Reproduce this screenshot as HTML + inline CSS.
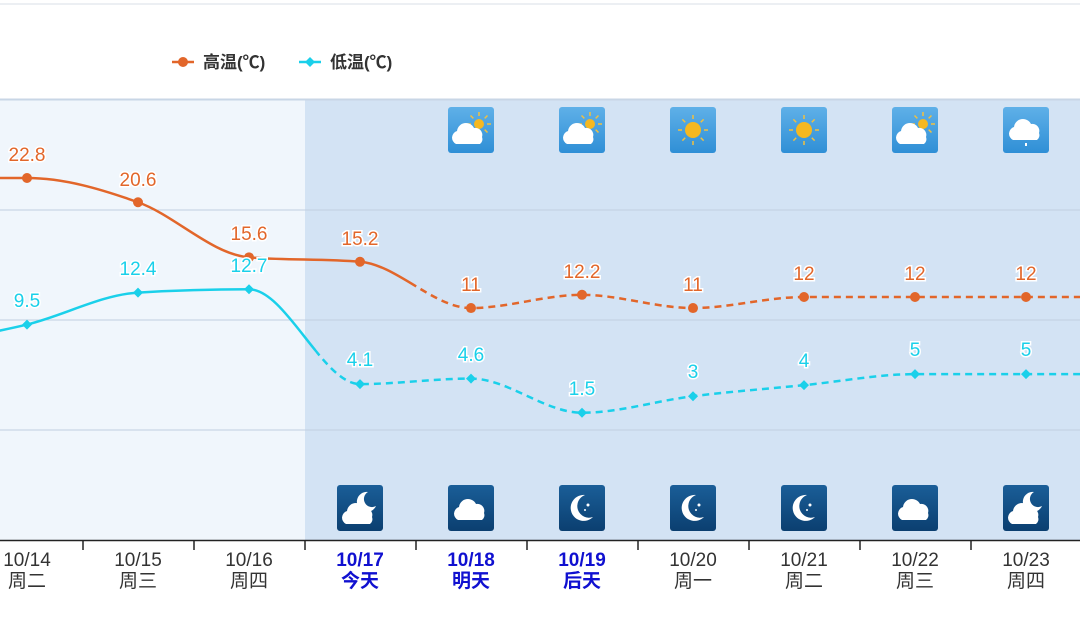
<!DOCTYPE html>
<html><head><meta charset="utf-8"><style>
html,body{margin:0;padding:0;background:#fff;}
svg{display:block;font-family:"Liberation Sans","Noto Sans CJK SC",sans-serif;}
</style></head><body>
<svg id="s" width="1080" height="628" viewBox="0 0 1080 628" xmlns="http://www.w3.org/2000/svg">
<defs>
<linearGradient id="dg" x1="0" y1="0" x2="0" y2="1"><stop offset="0" stop-color="#5fb0e8"/><stop offset="1" stop-color="#2f8fd6"/></linearGradient>
<linearGradient id="ng" x1="0" y1="0" x2="0" y2="1"><stop offset="0" stop-color="#1a5e98"/><stop offset="1" stop-color="#0b3f70"/></linearGradient>
<clipPath id="hs"><rect x="0" y="0" width="415" height="628"/></clipPath>
<clipPath id="hd"><rect x="415" y="0" width="700" height="628"/></clipPath>
<clipPath id="ls"><rect x="0" y="0" width="316" height="628"/></clipPath>
<clipPath id="ld"><rect x="316" y="0" width="800" height="628"/></clipPath>
<g id="cloud"><path d="M-13,8 a7,7 0 0 1 1,-13 a9,9 0 0 1 17,-3 a7,7 0 0 1 8,9 a6,6 0 0 1 -2,7 z" fill="#fff"/></g>
</defs>
<line x1="0" y1="4" x2="1080" y2="4" stroke="#eceff3" stroke-width="2"/>
<rect x="0" y="99" width="305" height="441" fill="#f0f6fc"/>
<rect x="305" y="99" width="775" height="441" fill="#d3e3f4"/>
<line x1="0" y1="99.5" x2="1080" y2="99.5" stroke="#c8d6e6" stroke-width="2"/>
<g stroke="#c0cfdf" stroke-width="1"><line x1="0" y1="210" x2="1080" y2="210"/><line x1="0" y1="320" x2="1080" y2="320"/><line x1="0" y1="430" x2="1080" y2="430"/></g>
<line x1="0" y1="540.5" x2="1080" y2="540.5" stroke="#222" stroke-width="1.5"/>
<g stroke="#222" stroke-width="1.5" id="ticks"></g>
<line x1="172" y1="62" x2="194" y2="62" stroke="#e2662a" stroke-width="2.5"/><circle cx="183" cy="62" r="5" fill="#e2662a"/>
<text x="203" y="68" font-size="17" font-weight="bold" fill="#333">高温(℃)</text>
<line x1="299" y1="62" x2="321" y2="62" stroke="#1ad0ea" stroke-width="2.5"/><path d="M310,57 l5,5 l-5,5 l-5,-5z" fill="#1ad0ea"/>
<text x="330" y="68" font-size="17" font-weight="bold" fill="#333">低温(℃)</text>
<g id="icons"></g>
<g id="lines"></g>
<g font-size="19" fill="#e2662a" text-anchor="middle" stroke="#fff" stroke-width="3" paint-order="stroke">
<text x="27" y="161">22.8</text><text x="138" y="186">20.6</text><text x="249" y="240">15.6</text><text x="360" y="245">15.2</text><text x="471" y="291">11</text><text x="582" y="278">12.2</text><text x="693" y="291">11</text><text x="804" y="280">12</text><text x="915" y="280">12</text><text x="1026" y="280">12</text>
</g>
<g font-size="19" fill="#1ad0ea" text-anchor="middle" stroke="#fff" stroke-width="3" paint-order="stroke">
<text x="27" y="307">9.5</text><text x="138" y="275">12.4</text><text x="249" y="272">12.7</text><text x="360" y="366">4.1</text><text x="471" y="361">4.6</text><text x="582" y="395">1.5</text><text x="693" y="378">3</text><text x="804" y="367">4</text><text x="915" y="356">5</text><text x="1026" y="356">5</text>
</g>
<g font-size="19" text-anchor="middle" fill="#333">
<text x="27" y="566">10/14</text><text x="27" y="587">周二</text>
<text x="138" y="566">10/15</text><text x="138" y="587">周三</text>
<text x="249" y="566">10/16</text><text x="249" y="587">周四</text>
<g fill="#1010d0" font-weight="bold">
<text x="360" y="566">10/17</text><text x="360" y="587">今天</text>
<text x="471" y="566">10/18</text><text x="471" y="587">明天</text>
<text x="582" y="566">10/19</text><text x="582" y="587">后天</text>
</g>
<text x="693" y="566">10/20</text><text x="693" y="587">周一</text>
<text x="804" y="566">10/21</text><text x="804" y="587">周二</text>
<text x="915" y="566">10/22</text><text x="915" y="587">周三</text>
<text x="1026" y="566">10/23</text><text x="1026" y="587">周四</text>
</g>
</svg>
<script>
var NS="http://www.w3.org/2000/svg";
function el(t,a,p){var e=document.createElementNS(NS,t);for(var k in a)e.setAttribute(k,a[k]);(p||document.getElementById('lines')).appendChild(e);return e;}
var xs=[];for(var i=0;i<10;i++)xs.push(27+111*i);
var tk=document.getElementById('ticks');
for(var i=0;i<10;i++)el('line',{x1:83+111*i,y1:540,x2:83+111*i,y2:550},tk);
function y(t){return 178+(22.8-t)*11.02;}
var hi=[22.8,20.6,15.6,15.2,11,12.2,11,12,12,12],lo=[9.5,12.4,12.7,4.1,4.6,1.5,3,4,5,5];
function path(v,y0){var X=[-84],Y=[y0];for(var i=0;i<v.length;i++){X.push(xs[i]);Y.push(y(v[i]));}
var n=X.length,s=[],m=[];for(var i=0;i<n-1;i++)s.push((Y[i+1]-Y[i])/(X[i+1]-X[i]));
for(var i=0;i<n;i++){if(i==0)m.push(s[0]);else if(i==n-1)m.push(s[n-2]);else{var a=s[i-1],b=s[i];if(a*b<=0)m.push(0);else{var h0=X[i]-X[i-1],h1=X[i+1]-X[i];var p=(a*h1+b*h0)/(h0+h1);m.push((Math.sign(a)+Math.sign(b))*Math.min(Math.abs(a),Math.abs(b),0.5*Math.abs(p)));}}}
var d="M"+X[0]+","+Y[0];for(var i=0;i<n-1;i++){var h=(X[i+1]-X[i])/3;d+=" C"+(X[i]+h)+","+(Y[i]+m[i]*h)+" "+(X[i+1]-h)+","+(Y[i+1]-m[i+1]*h)+" "+X[i+1]+","+Y[i+1];}
d+=" L1100,"+Y[n-1];return d;}
var hp=path(hi,y(22.8)),lp=path(lo,y(7.5));
el('path',{d:hp,fill:"none",stroke:"#e2662a","stroke-width":2.5,"clip-path":"url(#hs)"});
el('path',{d:hp,fill:"none",stroke:"#e2662a","stroke-width":2.5,"stroke-dasharray":"7,5","clip-path":"url(#hd)"});
el('path',{d:lp,fill:"none",stroke:"#1ad0ea","stroke-width":2.5,"clip-path":"url(#ls)"});
el('path',{d:lp,fill:"none",stroke:"#1ad0ea","stroke-width":2.5,"stroke-dasharray":"7,5","clip-path":"url(#ld)"});
for(var i=0;i<10;i++){el('circle',{cx:xs[i],cy:y(hi[i]),r:5,fill:"#e2662a"});
var yy=y(lo[i]);el('path',{d:"M"+xs[i]+","+(yy-5)+" l5,5 l-5,5 l-5,-5z",fill:"#1ad0ea"});}
var ic=document.getElementById('icons');
var day=['pc','pc','sun','sun','pc','rain'];
for(var i=0;i<6;i++){var cx=xs[4+i],g=el('g',{transform:"translate("+cx+",130)"},ic);
el('rect',{x:-23,y:-23,width:46,height:46,rx:3,fill:"url(#dg)"},g);
var k=day[i];
if(k=='sun'||k=='pc'){var sx=k=='sun'?0:8,sy=k=='sun'?0:-6,r=k=='sun'?8:5;
for(var a=0;a<8;a++){var an=a*Math.PI/4;el('line',{x1:sx+Math.cos(an)*(r+3),y1:sy+Math.sin(an)*(r+3),x2:sx+Math.cos(an)*(r+7),y2:sy+Math.sin(an)*(r+7),stroke:"#f0c040","stroke-width":1.5},g);}
el('circle',{cx:sx,cy:sy,r:r,fill:"#f5b820"},g);}
if(k=='pc')el('use',{href:"#cloud",transform:"translate(-2,6)"},g);
if(k=='rain'){el('use',{href:"#cloud",transform:"translate(0,2)"},g);el('rect',{x:-1,y:13,width:2,height:3,fill:"#fff"},g);}}
var night=['mc','c','m','m','m','c','mc'];
for(var i=0;i<7;i++){var cx=xs[3+i],g=el('g',{transform:"translate("+cx+",508)"},ic);
el('rect',{x:-23,y:-23,width:46,height:46,rx:3,fill:"url(#ng)"},g);
var k=night[i];
if(k=='m'){el('path',{d:"M3,-13 a13,13 0 1 0 8,22 a11,11 0 0 1 -8,-22z",fill:"#fff"},g);el('circle',{cx:6,cy:-3,r:1.5,fill:"#fff"},g);el('circle',{cx:3,cy:2,r:1,fill:"#fff"},g);}
if(k=='mc'){el('path',{d:"M8,-16 a10,10 0 1 0 8,14 a8,8 0 0 1 -8,-14z",fill:"#fff"},g);el('use',{href:"#cloud",transform:"translate(-1,8)"},g);}
if(k=='c')el('use',{href:"#cloud",transform:"translate(0,4)"},g);}
</script>
</body></html>
